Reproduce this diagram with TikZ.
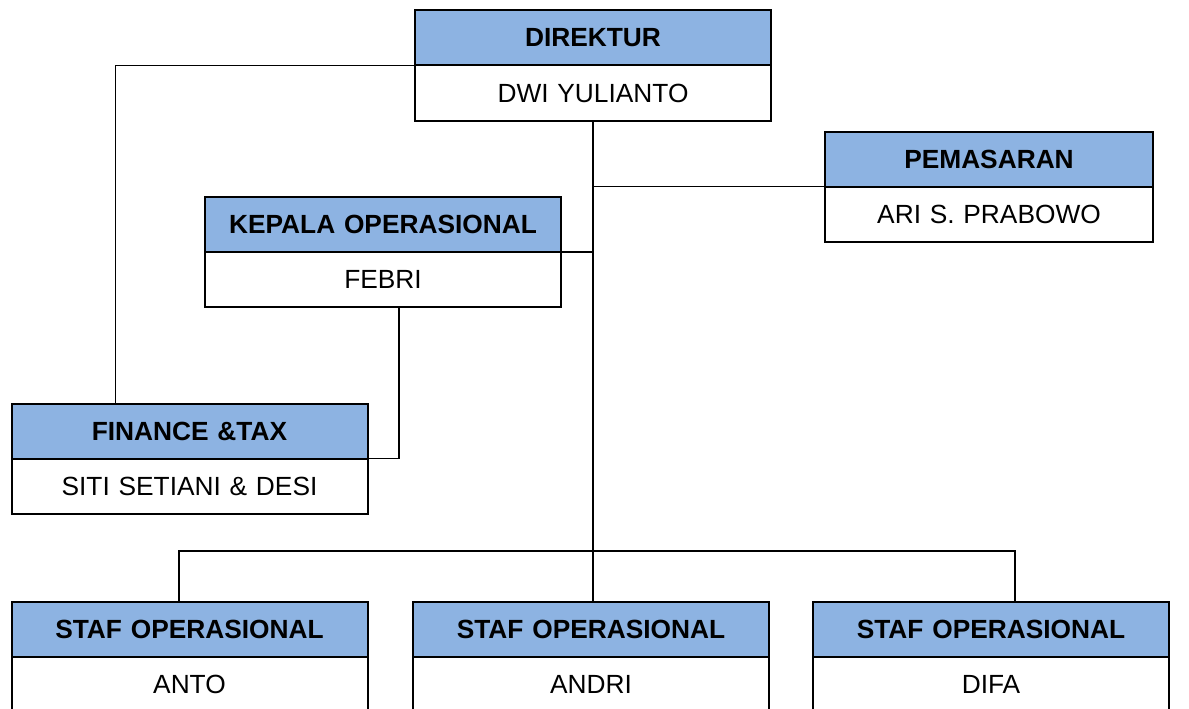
\documentclass[tikz,border=0pt]{standalone}
\usepackage{fontspec}
\setmainfont{Liberation Sans}
\usepackage{xcolor}
\usetikzlibrary{positioning}
\definecolor{headblue}{HTML}{8DB3E2}

\begin{document}
\begin{tikzpicture}[
  x=1pt, y=-1pt,
  font=\fontsize{26.3}{30}\selectfont,
  head/.style={draw=black, line width=2pt, fill=headblue, outer sep=0pt,
               minimum height=55pt, text width=356pt, align=center,
               inner sep=0pt, font=\fontsize{26.3}{30}\selectfont\bfseries},
  person/.style={draw=black, line width=2pt, fill=white, outer sep=0pt,
                 minimum height=55pt, text width=356pt, align=center,
                 inner sep=0pt},
  link/.style={line width=1.8pt, black}
]
\useasboundingbox (0,0) rectangle (1189,709);
% boxes
\node[head] (dirhead) at (593,38) {DIREKTUR};
\node[person, below=0pt of dirhead] (dirname) {DWI YULIANTO};
\node[head, text width=328pt] (pemhead) at (989,159) {PEMASARAN};
\node[person, text width=328pt, below=0pt of pemhead] (pemname) {ARI S. PRABOWO};
\node[head] (kephead) at (383,224.5) {KEPALA OPERASIONAL};
\node[person, below=0pt of kephead] (kepname) {FEBRI};
\node[head] (finhead) at (189.5,431) {FINANCE \&TAX};
\node[person, below=0pt of finhead] (finname) {SITI SETIANI \& DESI};
\node[head] (staf1head) at (189.5,629) {STAF OPERASIONAL};
\node[person, below=0pt of staf1head] (staf1name) {ANTO};
\node[head] (staf2head) at (591,629) {STAF OPERASIONAL};
\node[person, below=0pt of staf2head] (staf2name) {ANDRI};
\node[head] (staf3head) at (991,629) {STAF OPERASIONAL};
\node[person, below=0pt of staf3head] (staf3name) {DIFA};
% lines
\coordinate (hub) at (593,551);
\draw[link] (dirname.south) -- (hub);
\draw[link] (hub) -| ([xshift=-10.5pt]staf1head.north);
\draw[link] (hub) -| ([xshift=24pt]staf3head.north);
\draw[link] (hub) -- (hub |- staf2head.north);
\draw[link] (pemhead.south west) -- (pemhead.south west -| hub);
\draw[link] (kephead.south east) -- (kephead.south east -| hub);
\draw[link] (dirhead.south west) -| ([xshift=104pt]finhead.north west);
\draw[link] ([xshift=16pt]kepname.south) |- (finhead.south east);
\end{tikzpicture}
\end{document}
